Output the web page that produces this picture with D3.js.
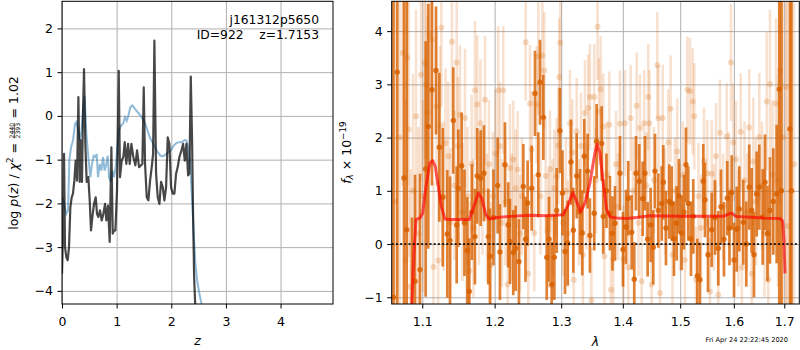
<!DOCTYPE html>
<html>
<head>
<meta charset="utf-8">
<script src="https://cdn.jsdelivr.net/npm/d3@7"></script>
<style>
body { margin: 0; background: #fff; }
svg { font-family: "DejaVu Sans", sans-serif; }
</style>
</head>
<body>
<svg id="fig" width="800" height="350"></svg>
<script>
// tick values
var zTicks = [0, 1, 2, 3, 4];
var logpTicks = [-4, -3, -2, -1, 0, 1, 2];
var waveTicks = [1.1, 1.2, 1.3, 1.4, 1.5, 1.6, 1.7];
var fluxTicks = [-1, 0, 1, 2, 3, 4];

// log p(z), full fit (dark) and photo-z prior (blue)  [z, log p]
var pzFull = [[0,-3.61],[0.018,-2.69],[0.037,-0.87],[0.055,-3.0],[0.079,-3.23],[0.104,-3.30],[0.128,-3.0],[0.153,-2.09],[0.177,-1.86],[0.2,-1.78],[0.226,-1.48],[0.25,-1.02],[0.275,-1.48],[0.3,0.43],[0.324,-1.51],[0.348,-0.56],[0.366,-1.51],[0.385,0.12],[0.403,1.07],[0.427,-0.64],[0.452,-1.51],[0.482,-1.4],[0.507,-1.93],[0.531,-2.62],[0.556,-2.31],[0.586,-2.01],[0.617,-1.86],[0.641,-2.24],[0.665,-2.31],[0.696,-2.16],[0.727,-2.39],[0.757,-2.24],[0.788,-2.01],[0.812,-2.39],[0.842,-2.05],[0.873,-2.88],[0.904,-0.72],[0.928,-2.69],[0.952,-2.62],[0.977,-2.62],[1.007,-1.70],[1.038,1.03],[1.062,-1.40],[1.093,-1.02],[1.123,-0.94],[1.148,-0.6],[1.178,-1.1],[1.209,-0.64],[1.239,-1.1],[1.270,-0.64],[1.306,-0.94],[1.343,-1.13],[1.374,-0.79],[1.410,-1.17],[1.471,-1.1],[1.496,0.65],[1.520,-1.1],[1.551,-1.86],[1.581,-1.93],[1.612,-1.48],[1.642,-1.17],[1.667,-0.87],[1.691,1.72],[1.722,-1.32],[1.752,-1.86],[1.783,-2.01],[1.813,-1.51],[1.844,-1.63],[1.874,-1.93],[1.905,-1.63],[1.935,-0.49],[1.966,-0.64],[1.996,-1.63],[2.027,-1.78],[2.057,-1.78],[2.088,-1.32],[2.118,-1.17],[2.149,-0.94],[2.186,-0.79],[2.216,-0.64],[2.247,-1.02],[2.277,-0.64],[2.308,-1.36],[2.332,-1.32],[2.357,0.90],[2.381,-0.56],[2.399,-2.24],[2.418,-3.68],[2.436,-4.25],[2.46,-4.6],[2.5,-5.2]];
var pzPrior = [[0.018,-1.86],[0.049,-2.09],[0.079,-2.24],[0.110,-2.16],[0.134,-1.02],[0.165,-0.72],[0.201,-0.56],[0.238,-0.18],[0.262,-0.14],[0.293,-0.30],[0.324,-0.56],[0.354,-0.37],[0.385,0.12],[0.415,0.46],[0.446,-0.41],[0.482,-0.94],[0.519,-1.40],[0.549,-1.10],[0.580,-0.91],[0.611,-0.94],[0.635,-0.87],[0.659,-1.40],[0.690,-1.10],[0.720,-1.25],[0.751,-0.94],[0.781,-1.25],[0.812,-1.10],[0.836,-0.91],[0.861,-1.40],[0.891,-1.51],[0.922,-1.25],[0.952,-1.40],[0.983,-1.17],[1.013,-0.72],[1.044,-0.33],[1.081,-0.22],[1.117,-0.18],[1.154,-0.03],[1.184,-0.11],[1.215,0.01],[1.252,0.20],[1.288,0.24],[1.325,0.18],[1.361,0.12],[1.410,0.05],[1.459,-0.03],[1.508,-0.14],[1.557,-0.30],[1.606,-0.49],[1.654,-0.60],[1.703,-0.72],[1.752,-0.83],[1.801,-0.91],[1.850,-0.92],[1.899,-0.88],[1.947,-0.83],[1.996,-0.78],[2.045,-0.68],[2.094,-0.62],[2.143,-0.60],[2.192,-0.60],[2.241,-0.55],[2.277,-0.56],[2.314,-0.72],[2.344,-1.02],[2.369,-1.63],[2.393,-2.24],[2.418,-2.85],[2.442,-3.38],[2.473,-3.76],[2.509,-4.03],[2.552,-4.29],[2.595,-4.52]];

// spectrum, second beam (faint)  [wave, flux, err]
var specFaint = [[1.0645,0.8,6],[1.0703,2.0,5],[1.0744,3.59,2.5],[1.0781,-0.3,3],[1.0804,3.50,2.4],[1.0823,2.15,2.4],[1.0846,-0.80,2.2],[1.0878,1.0,2.2],[1.0918,2.4,2.0],[1.0950,0.2,2.0],[1.0983,3.18,2.0],[1.1010,0.9,1.8],[1.1032,3.40,1.8],[1.1049,2.99,1.8],[1.1070,2.47,1.8],[1.1093,3.93,1.6],[1.1125,3.84,1.6],[1.1149,-0.43,1.6],[1.1192,2.59,1.5],[1.1213,-0.31,1.5],[1.1237,2.22,1.5],[1.1256,4.07,1.5],[1.1285,0.9,1.4],[1.1312,1.9,1.4],[1.1350,1.65,1.4],[1.1380,0.4,1.4],[1.1399,3.80,1.4],[1.1435,1.1,1.4],[1.1465,3.41,1.4],[1.1481,1.84,1.3],[1.1510,2.43,1.3],[1.1545,0.6,1.3],[1.1580,2.37,1.3],[1.1615,0.9,1.3],[1.1642,-0.5,1.3],[1.1673,1.51,1.3],[1.1698,0.3,1.3],[1.1720,2.89,1.3],[1.1752,2.62,1.3],[1.1776,0.8,1.2],[1.1797,2.27,1.2],[1.1826,1.0,1.2],[1.1862,2.71,1.2],[1.1890,0.5,1.2],[1.1919,1.5,1.2],[1.1947,-0.4,1.2],[1.1976,0.9,1.2],[1.2012,1.7,1.2],[1.2052,2.89,1.2],[1.2077,1.84,1.2],[1.2106,0.4,1.2],[1.2125,2.89,1.2],[1.2157,0.8,1.2],[1.2189,-0.76,1.2],[1.2223,1.43,1.2],[1.2248,0.5,1.2],[1.2272,1.59,1.1],[1.2307,1.05,1.1],[1.2337,1.40,1.1],[1.2371,0.2,1.1],[1.2401,0.9,1.1],[1.2457,3.79,1.1],[1.2496,-0.56,1.1],[1.2521,2.64,1.1],[1.2547,1.77,1.1],[1.2586,0.21,1.1],[1.2623,2.62,1.1],[1.2647,3.53,1.1],[1.2681,0.9,1.1],[1.2708,3.54,1.1],[1.2739,3.26,1.1],[1.2760,1.28,1.1],[1.2800,0.27,1.1],[1.2826,1.41,1.1],[1.2865,0.5,1.1],[1.2893,1.05,1.1],[1.2930,1.27,1.1],[1.2955,1.85,1.1],[1.2969,3.14,1.1],[1.2986,3.78,1.1],[1.3028,0.4,1.0],[1.3075,1.0,1.0],[1.3107,0.2,1.0],[1.3138,2.27,1.0],[1.3175,1.72,1.0],[1.3198,-0.67,1.0],[1.3245,2.12,1.0],[1.3281,0.6,1.0],[1.3313,1.84,1.0],[1.3345,-0.2,1.0],[1.3377,2.46,1.0],[1.3401,0.9,1.0],[1.3430,2.56,1.0],[1.3457,2.76,1.0],[1.3481,-1.06,1.0],[1.3527,2.76,1.0],[1.3555,1.2,1.0],[1.3582,4.08,1.0],[1.3604,2.49,1.0],[1.3632,2.91,1.0],[1.3674,2.21,1.0],[1.3694,-0.23,1.0],[1.3736,1.3,1.0],[1.3774,2.24,1.0],[1.3802,-0.86,1.0],[1.3840,-0.29,1.0],[1.3885,1.5,1.0],[1.3919,0.7,1.0],[1.3952,2.26,1.0],[1.4008,-0.28,1.0],[1.4037,2.27,1.0],[1.4092,-0.44,1.0],[1.4133,2.37,1.0],[1.4172,1.0,1.0],[1.4236,2.60,1.0],[1.4267,0.4,1.0],[1.4292,2.18,1.0],[1.4321,-0.70,1.0],[1.4366,2.27,1.0],[1.4404,1.1,1.0],[1.4435,2.76,1.0],[1.4455,2.27,1.0],[1.4494,-0.76,1.0],[1.4534,1.2,1.0],[1.4592,3.36,1.0],[1.4614,2.36,1.0],[1.4640,-0.92,1.0],[1.4688,2.37,1.0],[1.4729,0.8,1.0],[1.4787,1.91,1.0],[1.4829,2.54,1.0],[1.4862,-0.2,1.0],[1.4906,1.0,1.0],[1.4947,1.74,1.0],[1.4995,0.5,1.0],[1.5050,1.3,1.0],[1.5087,-0.3,1.0],[1.5129,2.90,1.0],[1.5178,2.87,1.0],[1.5227,2.68,1.0],[1.5257,2.40,1.0],[1.5288,-0.67,1.0],[1.5333,0.9,1.0],[1.5380,0.3,1.0],[1.5435,1.56,1.0],[1.5497,1.33,1.0],[1.5547,-0.89,1.0],[1.5579,1.32,1.0],[1.5622,0.5,1.0],[1.5660,1.65,1.0],[1.5703,-0.95,1.0],[1.5735,2.09,1.0],[1.5792,0.7,1.0],[1.5863,2.02,1.0],[1.5907,1.0,1.1],[1.5945,3.41,1.1],[1.5989,1.91,1.1],[1.6041,1.59,1.1],[1.6089,0.3,1.1],[1.6132,2.11,1.1],[1.6155,-0.44,1.1],[1.6206,1.2,1.1],[1.6255,0.6,1.1],[1.6299,2.19,1.1],[1.6347,-0.56,1.2],[1.6378,1.55,1.2],[1.6432,0.8,1.2],[1.6497,2.01,1.2],[1.6551,1.1,1.2],[1.6601,0.2,1.2],[1.6645,2.68,1.3],[1.6677,-0.67,1.3],[1.6710,3.00,1.4],[1.6761,1.3,1.4],[1.6831,2.64,1.6],[1.6872,1.2,2.0],[1.6912,3.26,2.5],[1.6974,2.0,5],[1.7035,2.95,6],[1.7066,0.34,6],[1.7200,1.5,8]];

// spectrum, first beam (strong)  [wave, flux, err]
var specStrong = [[1.0625,-1.0,8],[1.0674,3.23,8],[1.0761,1.24,8],[1.0796,0.27,8],[1.0865,-1.3,1.8],[1.0905,-0.70,2.0],[1.0970,-0.48,1.8],[1.1045,1.41,2.4],[1.1080,2.21,2.3],[1.1129,2.9,1.8],[1.1183,3.26,1.2],[1.1228,1.82,1.4],[1.1274,0.88,1.3],[1.1336,0.19,1.2],[1.1373,0.07,1.2],[1.1418,2.32,1.0],[1.1465,0.36,1.1],[1.1487,1.05,1.1],[1.1534,1.47,1.0],[1.1573,0.4,1.0],[1.1611,-0.12,1.0],[1.1639,-0.89,1.0],[1.1677,0.6,0.9],[1.1719,0.14,0.9],[1.1752,1.28,0.9],[1.1800,1.24,0.9],[1.1847,1.33,0.9],[1.1909,0.14,0.9],[1.1933,-0.23,0.9],[1.1983,0.5,0.9],[1.2044,1.10,0.9],[1.2077,-0.15,0.9],[1.2150,1.49,0.8],[1.2198,0.36,0.8],[1.2223,0.05,0.8],[1.2272,-0.16,0.8],[1.2307,-0.08,0.8],[1.2356,-0.33,0.8],[1.2421,1.08,0.8],[1.2454,0.09,0.8],[1.2486,0.77,0.8],[1.2547,1.05,0.8],[1.2597,2.83,0.8],[1.2647,1.30,0.8],[1.2673,3.04,0.8],[1.2724,2.38,0.8],[1.2776,-0.25,0.8],[1.2811,0.09,0.8],[1.2852,-0.76,0.8],[1.2893,-0.25,0.8],[1.2930,0.63,0.8],[1.2981,2.13,0.8],[1.3020,0.96,0.8],[1.3060,-0.14,0.8],[1.3102,0.02,0.8],[1.3154,1.54,0.8],[1.3191,0.26,0.8],[1.3245,1.28,0.8],[1.3297,0.61,0.8],[1.3334,0.21,0.8],[1.3366,1.65,0.7],[1.3420,1.37,0.7],[1.3457,0.16,0.7],[1.3527,0.58,0.7],[1.3566,1.93,0.7],[1.3648,1.89,0.7],[1.3674,0.52,0.7],[1.3727,1.0,0.7],[1.3785,0.58,0.7],[1.3827,0.2,0.7],[1.3869,0.39,0.7],[1.3952,1.33,0.7],[1.4003,-0.1,0.7],[1.4053,0.32,0.7],[1.4092,0.86,0.7],[1.4150,0.22,0.7],[1.4194,-0.66,0.7],[1.4223,1.33,0.7],[1.4280,1.18,0.7],[1.4338,0.85,0.7],[1.4378,1.33,0.7],[1.4424,0.09,0.7],[1.4476,0.36,0.7],[1.4522,-0.06,0.7],[1.4552,1.37,0.7],[1.4610,0.63,0.7],[1.4670,0.76,0.7],[1.4698,1.16,0.7],[1.4746,0.3,0.7],[1.4805,0.80,0.7],[1.4847,0.76,0.7],[1.4888,0.1,0.7],[1.4936,0.39,0.7],[1.4977,0.9,0.7],[1.5026,0.21,0.7],[1.5068,0.6,0.7],[1.5105,1.49,0.7],[1.5147,0.76,0.7],[1.5196,0.1,0.7],[1.5238,0.52,0.7],[1.5312,-0.60,0.7],[1.5361,-0.67,0.7],[1.5422,1.18,0.7],[1.5454,0.83,0.7],[1.5510,-0.2,0.7],[1.5579,0.27,0.7],[1.5641,0.5,0.7],[1.5703,-0.08,0.7],[1.5754,0.7,0.7],[1.5811,0.09,0.7],[1.5874,0.86,0.7],[1.5916,0.3,0.7],[1.5959,0.97,0.7],[1.6003,-0.3,0.7],[1.6055,0.28,0.8],[1.6105,0.66,0.8],[1.6182,0.41,0.8],[1.6241,0.0,0.8],[1.6299,1.07,0.8],[1.6347,0.63,0.8],[1.6392,-0.2,0.8],[1.6445,0.94,0.8],[1.6497,1.07,0.8],[1.6565,0.51,0.9],[1.6611,1.16,0.9],[1.6660,0.2,0.9],[1.6710,0.63,1.0],[1.6777,0.80,1.0],[1.6845,0.94,1.3],[1.6898,2.91,6],[1.6943,1.0,8],[1.7117,2.16,8],[1.7148,1.0,8]];

// best-fit model  [wave, flux]
var model = [[1.0830,-2.5],[1.0861,-1.2],[1.0891,-0.17],[1.0917,0.46],[1.0970,0.49],[1.1005,0.58],[1.1049,1.08],[1.1102,1.52],[1.1138,1.57],[1.1173,1.46],[1.1214,1.08],[1.1260,0.68],[1.1304,0.47],[1.1373,0.46],[1.1510,0.46],[1.1640,0.46],[1.1706,0.71],[1.1767,0.96],[1.1815,0.86],[1.1876,0.55],[1.1923,0.47],[1.2030,0.50],[1.2223,0.52],[1.2521,0.54],[1.2775,0.53],[1.3032,0.55],[1.3111,0.74],[1.3181,0.97],[1.3233,0.83],[1.3308,0.61],[1.3377,0.77],[1.3457,1.15],[1.3538,1.71],[1.3576,1.87],[1.3620,1.71],[1.3674,1.15],[1.3730,0.65],[1.3785,0.51],[1.3896,0.49],[1.4064,0.48],[1.4234,0.50],[1.4464,0.53],[1.4995,0.52],[1.5299,0.52],[1.5797,0.52],[1.5892,0.56],[1.5957,0.58],[1.6040,0.52],[1.6248,0.51],[1.6576,0.49],[1.6912,0.48],[1.6967,0.43],[1.6994,0.08],[1.7014,-0.55]];

var svg = d3.select("#fig");
var orange = "#d86200";

function frame(g, x, y, xt, yt, id) {
    var x0 = x.range()[0], x1 = x.range()[1];
    var y0 = y.range()[0], y1 = y.range()[1];

    // grid
    g.append("g")
        .attr("transform", "translate(0," + y0 + ")")
        .call(d3.axisBottom(x).tickValues(xt).tickSize(-(y0 - y1)).tickFormat(""))
        .call(function (a) { a.select(".domain").remove(); })
        .selectAll("line").attr("stroke", "#b0b0b0").attr("stroke-width", 1);
    g.append("g")
        .attr("transform", "translate(" + x0 + ",0)")
        .call(d3.axisLeft(y).tickValues(yt).tickSize(-(x1 - x0)).tickFormat(""))
        .call(function (a) { a.select(".domain").remove(); })
        .selectAll("line").attr("stroke", "#b0b0b0").attr("stroke-width", 1);

    g.append("clipPath").attr("id", id)
        .append("rect")
        .attr("x", x0).attr("y", y1)
        .attr("width", x1 - x0).attr("height", y0 - y1);
    return g.append("g").attr("clip-path", "url(#" + id + ")");
}

function axes(g, x, y, xt, yt, fmt) {
    var x0 = x.range()[0], x1 = x.range()[1];
    var y0 = y.range()[0], y1 = y.range()[1];
    var ax = g.append("g")
        .attr("transform", "translate(0," + y0 + ")")
        .call(d3.axisBottom(x).tickValues(xt).tickSize(4.5).tickFormat(fmt));
    ax.select(".domain").remove();
    ax.selectAll("text").attr("y", 13).attr("dy", "0.71em")
        .attr("font-size", 12.5).attr("font-family", "DejaVu Sans").attr("fill", "#000");
    var ay = g.append("g")
        .attr("transform", "translate(" + x0 + ",0)")
        .call(d3.axisLeft(y).tickValues(yt).tickSize(4.5).tickPadding(4.5).tickFormat(d3.format("d")));
    ay.select(".domain").remove();
    ay.selectAll("text").attr("font-size", 12.5).attr("font-family", "DejaVu Sans").attr("fill", "#000");
    g.append("rect")
        .attr("x", x0).attr("y", y1)
        .attr("width", x1 - x0).attr("height", y0 - y1)
        .attr("fill", "none").attr("stroke", "#000").attr("stroke-width", 1);
}

// ---- left: p(z)
var xz = d3.scaleLinear().domain([0, 4.96]).range([62, 333]);
var yp = d3.scaleLinear().domain([-4.30, 2.62]).range([304, 1.3]);
var gL = svg.append("g");
var plotL = frame(gL, xz, yp, zTicks, logpTicks, "clipL");

var pzLine = d3.line()
    .x(function (d) { return xz(d[0]); })
    .y(function (d) { return yp(d[1]); });

plotL.append("path").datum(pzPrior)
    .attr("d", pzLine)
    .attr("fill", "none").attr("stroke", "#1f77b4").attr("stroke-opacity", 0.5)
    .attr("stroke-width", 2);
plotL.append("path").datum(pzFull)
    .attr("d", pzLine)
    .attr("fill", "none").attr("stroke", "#000").attr("stroke-opacity", 0.72)
    .attr("stroke-width", 2.2).attr("stroke-linejoin", "round");

axes(gL, xz, yp, zTicks, logpTicks, d3.format("d"));

gL.append("text").attr("x", 319).attr("y", 24).attr("text-anchor", "end")
    .attr("font-size", 12.3).text("j161312p5650");
gL.append("text").attr("x", 319).attr("y", 39).attr("text-anchor", "end")
    .attr("font-size", 12.3).style("white-space", "pre").text("ID=922    z=1.7153");

gL.append("text").attr("x", 197.5).attr("y", 345).attr("text-anchor", "middle")
    .attr("font-size", 12.5).attr("font-style", "italic").text("z");

// y label with fraction
var lab = svg.append("g");
var t1 = lab.append("text").attr("font-size", 12.5).style("white-space", "pre");
t1.append("tspan").text("log ");
t1.append("tspan").attr("font-style", "italic").text("p");
t1.append("tspan").text("(");
t1.append("tspan").attr("font-style", "italic").text("z");
t1.append("tspan").text(") / ");
t1.append("tspan").attr("font-style", "italic").text("χ");
t1.append("tspan").attr("font-size", 8.8).attr("dy", -5).text("2");
t1.append("tspan").attr("dy", 5).text(" = ");
var w1 = t1.node().getComputedTextLength();
var fw = 15.5;
lab.append("text").attr("x", w1 + 0.5 + fw / 2).attr("y", -4.8).attr("text-anchor", "middle")
    .attr("font-size", 6.2).text("2440");
lab.append("line").attr("x1", w1 + 0.5).attr("x2", w1 + 0.5 + fw)
    .attr("y1", -3.9).attr("y2", -3.9).attr("stroke", "#000").attr("stroke-width", 0.6);
lab.append("text").attr("x", w1 + 0.5 + fw / 2).attr("y", 1.2).attr("text-anchor", "middle")
    .attr("font-size", 6.2).text("2393");
var t2 = lab.append("text").attr("x", w1 + fw + 1).attr("font-size", 12.5)
    .style("white-space", "pre").text(" = 1.02");
var wTot = w1 + fw + 1 + t2.node().getComputedTextLength();
lab.attr("transform", "translate(18.3," + (153 + wTot / 2) + ") rotate(-90)");

// ---- right: spectrum
var xw = d3.scaleLog().domain([1.0603, 1.731]).range([391.7, 799.3]);
var yf = d3.scaleLinear().domain([-1.126, 4.56]).range([304, 1.3]);
var gR = svg.append("g");
var plotR = frame(gR, xw, yf, waveTicks, fluxTicks, "clipR");

function errbars(data, op, dotOp, r, w) {
    var g = plotR.append("g");
    g.selectAll("line").data(data).enter().append("line")
        .attr("x1", function (d) { return xw(d[0]); })
        .attr("x2", function (d) { return xw(d[0]); })
        .attr("y1", function (d) { return yf(d[1] - d[2]); })
        .attr("y2", function (d) { return yf(d[1] + d[2]); })
        .attr("stroke", orange).attr("stroke-opacity", op).attr("stroke-width", w);
    g.selectAll("circle").data(data).enter().append("circle")
        .attr("cx", function (d) { return xw(d[0]); })
        .attr("cy", function (d) { return yf(d[1]); })
        .attr("r", r)
        .attr("fill", orange).attr("fill-opacity", dotOp);
}

errbars(specFaint, 0.19, 0.22, 3, 2.6);
errbars(specStrong, 0.8, 0.85, 2.7, 2.7);

plotR.append("path").datum(model)
    .attr("d", d3.line()
        .x(function (d) { return xw(d[0]); })
        .y(function (d) { return yf(d[1]); }))
    .attr("fill", "none").attr("stroke", "#ff0000").attr("stroke-opacity", 0.65)
    .attr("stroke-width", 3).attr("stroke-linejoin", "round");

plotR.append("line")
    .attr("x1", xw.range()[0]).attr("x2", xw.range()[1])
    .attr("y1", yf(0)).attr("y2", yf(0))
    .attr("stroke", "#000").attr("stroke-opacity", 0.8)
    .attr("stroke-width", 2).attr("stroke-dasharray", "2,2.2");

axes(gR, xw, yf, waveTicks, fluxTicks, d3.format(".1f"));

gR.append("text").attr("x", 595.5).attr("y", 346).attr("text-anchor", "middle")
    .attr("font-size", 12.5).attr("font-style", "italic").text("λ");

var lab2 = svg.append("g");
var t3 = lab2.append("text").attr("font-size", 12.5).style("white-space", "pre");
t3.append("tspan").attr("font-style", "italic").text("f");
t3.append("tspan").attr("font-style", "italic").attr("font-size", 8.8).attr("dy", 2.5).text("λ");
t3.append("tspan").attr("dy", -2.5).text(" × 10");
t3.append("tspan").attr("font-size", 8.8).attr("dy", -5).text("−19");
var w3 = t3.node().getComputedTextLength();
lab2.attr("transform", "translate(350.5," + (152.6 + w3 / 2) + ") rotate(-90)");

svg.append("text").attr("x", 788).attr("y", 342).attr("text-anchor", "end")
    .attr("font-size", 6.6).text("Fri Apr 24 22:22:45 2020");
</script>
</body>
</html>
